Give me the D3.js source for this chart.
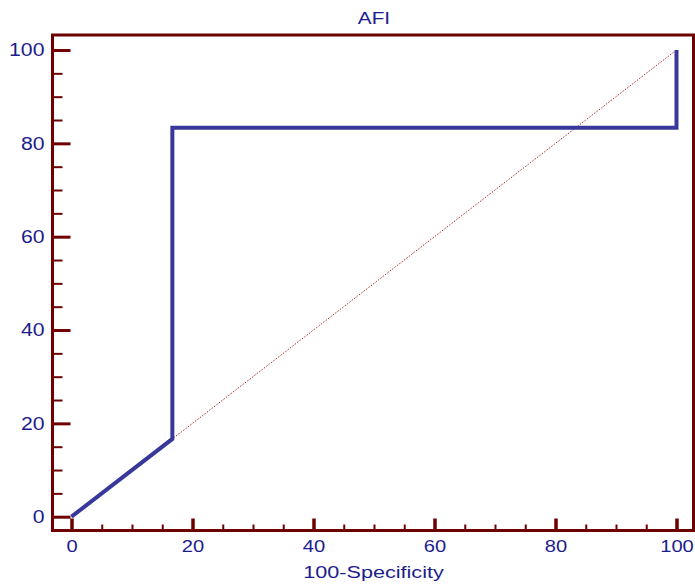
<!DOCTYPE html>
<html>
<head>
<meta charset="utf-8">
<script src="https://cdn.jsdelivr.net/npm/d3@7"></script>
<style>
body { margin: 0; background: #fff; }
text { font-family: "Liberation Sans", Arial, sans-serif; fill: #1c1c8c; }
</style>
</head>
<body>
<script>
// ROC curve points (100-Specificity, Sensitivity)
var fpr = [0, 16.67, 16.67, 100, 100];
var tpr = [0, 16.67, 83.33, 83.33, 100];
var majorTicks = [0, 20, 40, 60, 80, 100];
var minorTicks = d3.range(0, 101, 5).filter(function(v) { return v % 20 != 0; });
var title = "AFI";
var xLabel = "100-Specificity";

var width = 695, height = 586;
var frameColor = "#6e0000";

var svg = d3.select("body").append("svg")
	.attr("width", width)
	.attr("height", height);

var x = d3.scaleLinear().domain([0, 100]).range([71.5, 676.5]);
var y = d3.scaleLinear().domain([0, 100]).range([516.7, 50]);

// stretch text horizontally, the reference font is wide
function stretch(sel, k) {
	sel.each(function() {
		var len = this.getComputedTextLength();
		d3.select(this).attr("textLength", len * k).attr("lengthAdjust", "spacingAndGlyphs");
	});
}

// frame
svg.append("rect")
	.attr("x", 52.5)
	.attr("y", 35)
	.attr("width", 693.5 - 52.5)
	.attr("height", 530.5 - 35)
	.attr("fill", "none")
	.attr("stroke", frameColor)
	.attr("stroke-width", 3);

// left axis
var yMinor = svg.append("g")
	.attr("transform", "translate(52.5,0)")
	.call(d3.axisLeft(y).tickValues(minorTicks).tickSize(-10).tickFormat(""));
var yMajor = svg.append("g")
	.attr("transform", "translate(52.5,0)")
	.call(d3.axisLeft(y).tickValues(majorTicks).tickSize(-18).tickPadding(8));

// bottom axis
var xMinor = svg.append("g")
	.attr("transform", "translate(0,530.5)")
	.call(d3.axisBottom(x).tickValues(minorTicks).tickSize(-6).tickFormat(""));
var xMajor = svg.append("g")
	.attr("transform", "translate(0,530.5)")
	.call(d3.axisBottom(x).tickValues(majorTicks).tickSize(-12).tickPadding(10));

[yMinor, yMajor, xMinor, xMajor].forEach(function(g) {
	g.select(".domain").remove();
	g.attr("font-family", null).attr("font-size", null);
	g.selectAll("line").attr("stroke", frameColor);
});
yMinor.selectAll("line").attr("stroke-width", 2);
xMinor.selectAll("line").attr("stroke-width", 2);
yMajor.selectAll("line").attr("stroke-width", 3);
xMajor.selectAll("line").attr("stroke-width", 3.5);

yMajor.selectAll("text").attr("fill", "#1c1c8c").style("font-size", "18px").call(stretch, 1.18);
xMajor.selectAll("text").attr("fill", "#1c1c8c").style("font-size", "16.5px").call(stretch, 1.22);

// diagonal reference line
svg.append("line")
	.attr("x1", x(0)).attr("y1", y(0))
	.attr("x2", x(100)).attr("y2", y(100))
	.attr("stroke", "#b02828")
	.attr("stroke-width", 1)
	.attr("stroke-dasharray", "1.5,1.5");

// ROC curve
var line = d3.line()
	.x(function(d) { return x(d[0]); })
	.y(function(d) { return y(d[1]); });

svg.append("path")
	.datum(d3.zip(fpr, tpr))
	.attr("d", line)
	.attr("fill", "none")
	.attr("stroke", "#38389c")
	.attr("stroke-width", 4)
	.attr("stroke-linejoin", "miter")
	.attr("stroke-linecap", "butt");

// title and axis label
svg.append("text")
	.attr("x", 374)
	.attr("y", 24)
	.attr("text-anchor", "middle")
	.style("font-size", "17px")
	.text(title)
	.call(stretch, 1.22);

svg.append("text")
	.attr("x", 373.5)
	.attr("y", 578)
	.attr("text-anchor", "middle")
	.style("font-size", "16px")
	.text(xLabel)
	.call(stretch, 1.35);
</script>
</body>
</html>
